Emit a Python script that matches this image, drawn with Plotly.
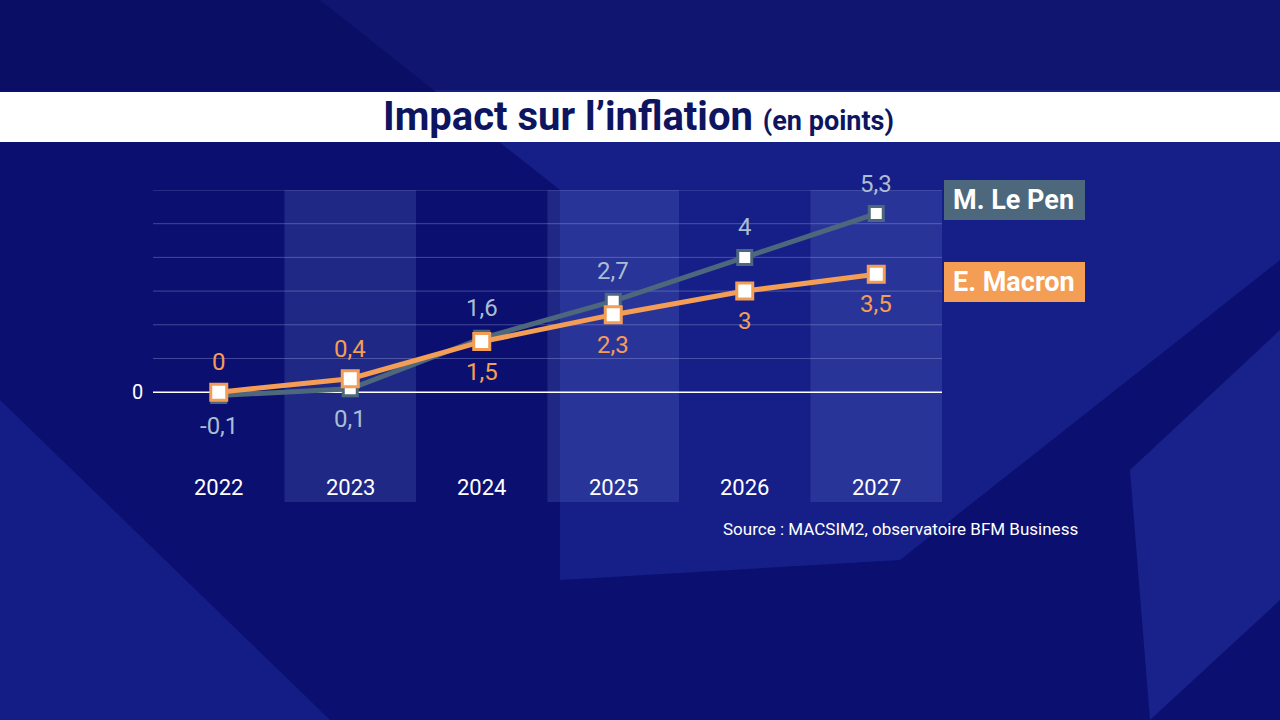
import plotly.graph_objects as go

years = ["2022", "2023", "2024", "2025", "2026", "2027"]
lepen = [-0.1, 0.1, 1.6, 2.7, 4.0, 5.3]
macron = [0.0, 0.4, 1.5, 2.3, 3.0, 3.5]
lepen_lbl = ["-0,1", "0,1", "1,6", "2,7", "4", "5,3"]
macron_lbl = ["0", "0,4", "1,5", "2,3", "3", "3,5"]
lepen_dir = [-1, -1, 1, 1, 1, 1]
macron_dir = [1, 1, -1, -1, -1, -1]

x = list(range(len(years)))
fig = go.Figure()
FONT = "Roboto"
LP = "#4d687c"
MC = "#f49d55"

L, R, T, B = 153, 942, 190, 502
def px(X): return (X - L) / (R - L)
def py(Y): return (B - Y) / (B - T)

shapes = [
    dict(type="path", xref="paper", yref="paper",
         path=f"M {px(320)} {py(0)} L {px(560)} {py(190)} L {px(560)} {py(580)} L {px(900)} {py(560)} L {px(1280)} {py(260)} L {px(1280)} {py(0)} Z",
         fillcolor="rgba(35,50,165,0.45)", line_width=0, layer="below"),
    dict(type="path", xref="paper", yref="paper",
         path=f"M {px(0)} {py(400)} L {px(330)} {py(720)} L {px(0)} {py(720)} Z",
         fillcolor="rgba(35,50,165,0.4)", line_width=0, layer="below"),
    dict(type="path", xref="paper", yref="paper",
         path=f"M {px(1130)} {py(470)} L {px(1280)} {py(330)} L {px(1280)} {py(600)} L {px(1150)} {py(720)} Z",
         fillcolor="rgba(50,70,185,0.35)", line_width=0, layer="below"),
    dict(type="path", xref="paper", yref="paper",
         path=f"M {px(0)} {py(0)} L {px(1280)} {py(0)} L {px(1280)} {py(90)} L {px(0)} {py(90)} Z",
         fillcolor="rgba(10,12,90,0.5)", line_width=0, layer="below"),
]
for i in [1, 3, 5]:
    shapes.append(dict(type="rect", xref="x", yref="y", x0=i - 0.5, x1=i + 0.5, y0=-3.26, y1=6,
                       fillcolor="rgba(120,140,220,0.2)", line_width=0, layer="below"))
for g in range(1, 7):
    shapes.append(dict(type="line", xref="x", yref="y", x0=-0.5, x1=5.5, y0=g, y1=g,
                       line=dict(color="rgba(170,180,230,0.35)", width=1), layer="below"))
shapes.append(dict(type="line", xref="x", yref="y", x0=-0.5, x1=5.5, y0=0, y1=0,
                   line=dict(color="white", width=1.5), layer="below"))
shapes.append(dict(type="rect", xref="paper", yref="paper", x0=px(0), x1=px(1280), y0=py(142), y1=py(92),
                   fillcolor="white", line_width=0))
shapes.append(dict(type="rect", xref="paper", yref="paper", x0=px(944), x1=px(1085),
                   y0=py(220), y1=py(180), fillcolor=LP, line_width=0))
shapes.append(dict(type="rect", xref="paper", yref="paper", x0=px(944), x1=px(1085),
                   y0=py(302), y1=py(262), fillcolor=MC, line_width=0))

fig.add_trace(go.Scatter(x=x, y=lepen, mode="lines+markers", line=dict(color=LP, width=5),
                         marker=dict(symbol="square", size=14, color="white", line=dict(color=LP, width=3))))
fig.add_trace(go.Scatter(x=x, y=macron, mode="lines+markers", line=dict(color=MC, width=5),
                         marker=dict(symbol="square", size=16, color="white", line=dict(color=MC, width=3))))

ann = []
for i in x:
    ann.append(dict(x=i, y=lepen[i], xref="x", yref="y", text=lepen_lbl[i], showarrow=False,
                    yshift=30 * lepen_dir[i], font=dict(family=FONT, size=24, color="#a9bdd3")))
    ann.append(dict(x=i, y=macron[i], xref="x", yref="y", text=macron_lbl[i], showarrow=False,
                    yshift=30 * macron_dir[i], font=dict(family=FONT, size=24, color=MC)))
    ann.append(dict(x=i, y=-2.84, xref="x", yref="y", text=years[i], showarrow=False,
                    font=dict(family=FONT, size=22, color="white")))

def pann(X, Y, text, size, color, xanchor="center"):
    return dict(x=px(X), y=py(Y), xref="paper", yref="paper", text=text, showarrow=False,
                xanchor=xanchor, yanchor="middle", font=dict(family=FONT, size=size, color=color))

ann += [
    pann(137, 392, "0", 20, "white"),
    pann(638, 117, "<b>Impact sur l’inflation</b> <b><span style='font-size:27px'>(en points)</span></b>", 40, "#0d1560"),
    pann(1014, 200, "<b>M. Le Pen</b>", 27, "white"),
    pann(1014, 282, "<b>E. Macron</b>", 27, "white"),
    pann(1080, 529, "Source : MACSIM2, observatoire BFM Business", 17, "white", xanchor="right"),
]

fig.update_layout(
    width=1280, height=720, showlegend=False,
    paper_bgcolor="#0b1070", plot_bgcolor="rgba(0,0,0,0)",
    margin=dict(l=L, r=1280 - R, t=T, b=720 - B),
    xaxis=dict(range=[-0.5, 5.5], visible=False, fixedrange=True),
    yaxis=dict(range=[-3.26, 6], visible=False, fixedrange=True),
    shapes=shapes, annotations=ann,
)
fig.write_html("out.html", post_script="document.body.style.margin='0';document.body.style.overflow='hidden';",
               config={"displayModeBar": False})
